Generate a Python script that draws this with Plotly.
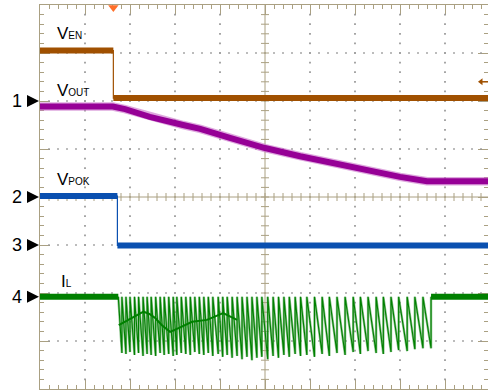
import plotly.graph_objects as go

# ---------------- data (screen divisions; y = 0 is the centre graticule line) -------------
ven_t = [0.0, 1.63, 1.63, 10.0]
ven_v = [3.05, 3.05, 2.06, 2.06]

vout_t = [0.0, 1.62, 1.89, 2.44, 3.18, 3.56, 4.22, 5.00, 5.78, 6.89, 8.00, 8.60, 10.0]
vout_v = [1.885, 1.885, 1.83, 1.67, 1.50, 1.42, 1.23, 1.02, 0.85, 0.625, 0.42, 0.33, 0.33]

vpok_t = [0.0, 1.72, 1.72, 10.0]
vpok_v = [0.02, 0.02, -1.01, -1.01]

il_top = -2.08
il_peak_t = [1.74, 1.82, 1.91, 2.00, 2.10, 2.19, 2.29, 2.38, 2.47, 2.57, 2.67, 2.76, 2.86, 2.96,
             3.04, 3.14, 3.24, 3.34, 3.44, 3.54, 3.64, 3.74, 3.84, 3.96, 4.06, 4.16, 4.27, 4.38,
             4.49, 4.60, 4.71, 4.82, 4.93, 5.06, 5.18, 5.30, 5.42, 5.54, 5.67, 5.79, 5.93, 6.10,
             6.27, 6.43, 6.60, 6.78, 6.96, 7.12, 7.29, 7.47, 7.63, 7.80, 7.97, 8.16, 8.33, 8.51]
il_stop = 8.69
il_trough_v = [-3.25, -3.27, -3.23, -3.29, -3.25, -3.31, -3.27, -3.29, -3.31, -3.25, -3.29, -3.27,
               -3.31, -3.29, -3.25, -3.27, -3.29, -3.23, -3.27,
               -3.29, -3.25, -3.31, -3.27, -3.33, -3.29, -3.35, -3.31, -3.38, -3.33, -3.40, -3.35,
               -3.33, -3.38, -3.31,
               -3.35, -3.29, -3.33, -3.27, -3.31, -3.29, -3.33, -3.27, -3.31, -3.25, -3.29, -3.23,
               -3.27, -3.21, -3.25, -3.27, -3.23, -3.19, -3.21, -3.17, -3.15, -3.15]
il_mid_t = [1.75, 1.89, 2.04, 2.30, 2.44, 2.56, 2.71, 2.89, 3.08, 3.38, 3.71, 4.07, 4.38]
il_mid_v = [-2.67, -2.60, -2.52, -2.39, -2.44, -2.52, -2.67, -2.81, -2.73, -2.60, -2.56, -2.42, -2.56]

channel_refs = {"1": 2.0, "2": 0.0, "3": -1.0, "4": -2.08}
labels = [("V", "EN", 0.33, 3.33), ("V", "OUT", 0.33, 2.14), ("V", "POK", 0.33, 0.285),
          ("I", "L", 0.42, -1.83)]
trigger_t = 1.63
trigger_level = 2.40

# ---------------- styling ----------------
C_VEN = "rgb(160,80,0)"
C_VOUT = "rgb(150,0,150)"
C_VPOK = "rgb(10,80,176)"
C_IL = "rgb(0,128,0)"
C_GRID = "rgb(170,160,130)"
C_DOT = "rgb(150,150,150)"
FONT = "Liberation Sans, Arial, sans-serif"

XMAX = 448 / 45.0

fig = go.Figure()

# dotted graticule
dx, dy = [], []
for k in range(1, 10):
    if k == 5:
        continue
    for j in range(1, 40):
        dx.append(k); dy.append(-4 + j * 0.2)
for k in range(-3, 4):
    if k == 0:
        continue
    for j in range(1, 50):
        dx.append(j * 0.2); dy.append(k)
fig.add_trace(go.Scatter(x=dx, y=dy, mode="markers", hoverinfo="skip",
                         marker=dict(symbol="square", size=1.7, color=C_DOT, line=dict(width=0))))

# centre cross with ticks
cx, cy = [5, 5, None, 0, 10, None], [-4, 4, None, 0, 0, None]
for j in range(1, 50):
    x = j * 0.2
    cx += [x, x, None]; cy += [-4 / 48, 4 / 48, None]
for j in range(1, 40):
    y = -4 + j * 0.2
    cx += [5 - 4 / 45, 5 + 4 / 45, None]; cy += [y, y, None]
fig.add_trace(go.Scatter(x=cx, y=cy, mode="lines", hoverinfo="skip",
                         line=dict(color=C_GRID, width=1)))


def step_trace(t, v, color, thick):
    fig.add_trace(go.Scatter(x=t, y=v, mode="lines", hoverinfo="skip",
                             line=dict(color=color, width=1.2)))
    sx, sy = [], []
    for i in range(len(t) - 1):
        if v[i] == v[i + 1]:
            sx += [t[i], t[i + 1], None]; sy += [v[i], v[i + 1], None]
    fig.add_trace(go.Scatter(x=sx, y=sy, mode="lines", hoverinfo="skip",
                             line=dict(color=color, width=thick)))


# IL switching waveform (sawtooth: jump to top, ramp down to trough)
tt = il_peak_t + [il_stop]
sx, sy = [tt[0]], [il_top]
for k in range(len(il_peak_t)):
    sx += [tt[k + 1], tt[k + 1]]
    sy += [il_trough_v[k], il_top]
fig.add_trace(go.Scatter(x=sx, y=sy, mode="lines", hoverinfo="skip",
                         line=dict(color="rgba(90,170,90,0.7)", width=2.4)))
fig.add_trace(go.Scatter(x=sx, y=sy, mode="lines", hoverinfo="skip",
                         line=dict(color=C_IL, width=1.1)))
fig.add_trace(go.Scatter(x=il_mid_t, y=il_mid_v, mode="lines", hoverinfo="skip",
                         line=dict(color=C_IL, width=2)))
step_trace([0.0, il_peak_t[0]], [il_top, il_top], C_IL, 6)
step_trace([il_stop, 10.0], [il_top, il_top], C_IL, 6)

step_trace(vpok_t, vpok_v, C_VPOK, 6)
fig.add_trace(go.Scatter(x=vout_t, y=vout_v, mode="lines", hoverinfo="skip",
                         line=dict(color="rgba(200,110,200,0.6)", width=8.5)))
fig.add_trace(go.Scatter(x=vout_t, y=vout_v, mode="lines", hoverinfo="skip",
                         line=dict(color=C_VOUT, width=6)))
step_trace(ven_t, ven_v, C_VEN, 6)

# trigger markers
fig.add_trace(go.Scatter(x=[trigger_t], y=[4 - 2.5 / 48], mode="markers", cliponaxis=False,
                         hoverinfo="skip",
                         marker=dict(symbol="triangle-down", size=9, color="rgb(255,110,40)",
                                     line=dict(width=0))))
fig.add_trace(go.Scatter(x=[9.80, 10.0], y=[trigger_level, trigger_level], mode="lines",
                         hoverinfo="skip", line=dict(color=C_VEN, width=1.5)))
fig.add_trace(go.Scatter(x=[9.80], y=[trigger_level], mode="markers", hoverinfo="skip",
                         marker=dict(symbol="triangle-left", size=6, color=C_VEN,
                                     line=dict(width=0))))

shapes = []
annotations = []
for name, yref in channel_refs.items():
    pf = (yref + 4) / 8.0
    shapes.append(dict(type="path", xref="paper", yref="paper", xsizemode="pixel",
                       ysizemode="pixel", xanchor=0, yanchor=pf,
                       path="M -13,-6 L -1,0 L -13,6 Z", fillcolor="black",
                       line=dict(width=0)))
    annotations.append(dict(text=name, xref="paper", yref="paper", x=0, y=pf,
                            xanchor="right", yanchor="middle", xshift=-16, yshift=0,
                            showarrow=False, font=dict(family=FONT, size=18, color="black")))

for main, sub, lx, ly in labels:
    annotations.append(dict(text=f"{main}<span style='font-size:10px'>{sub}</span>",
                            x=lx, y=ly, xref="x", yref="y", xanchor="left",
                            yanchor="bottom", yshift=-8, showarrow=False,
                            font=dict(family=FONT, size=17, color="black")))

fig.update_layout(
    width=488, height=390,
    margin=dict(l=40, r=0, t=5, b=1, pad=0),
    paper_bgcolor="white", plot_bgcolor="white",
    showlegend=False,
    shapes=shapes, annotations=annotations,
    xaxis=dict(range=[0, XMAX], showgrid=False, zeroline=False, showticklabels=False,
               showline=True, linecolor=C_GRID, linewidth=1, mirror="allticks",
               ticks="inside", ticklen=10, tickcolor=C_GRID, tick0=0, dtick=1,
               layer="below traces",
               minor=dict(ticks="inside", ticklen=4, dtick=0.2, tickcolor=C_GRID,
                          showgrid=False),
               fixedrange=True),
    yaxis=dict(range=[-4, 4], showgrid=False, zeroline=False, showticklabels=False,
               showline=True, linecolor=C_GRID, linewidth=1, mirror="allticks",
               ticks="inside", ticklen=10, tickcolor=C_GRID, tick0=0, dtick=1,
               layer="below traces",
               minor=dict(ticks="inside", ticklen=4, dtick=0.2, tickcolor=C_GRID,
                          showgrid=False),
               fixedrange=True),
)

fig.write_html("out.html")
